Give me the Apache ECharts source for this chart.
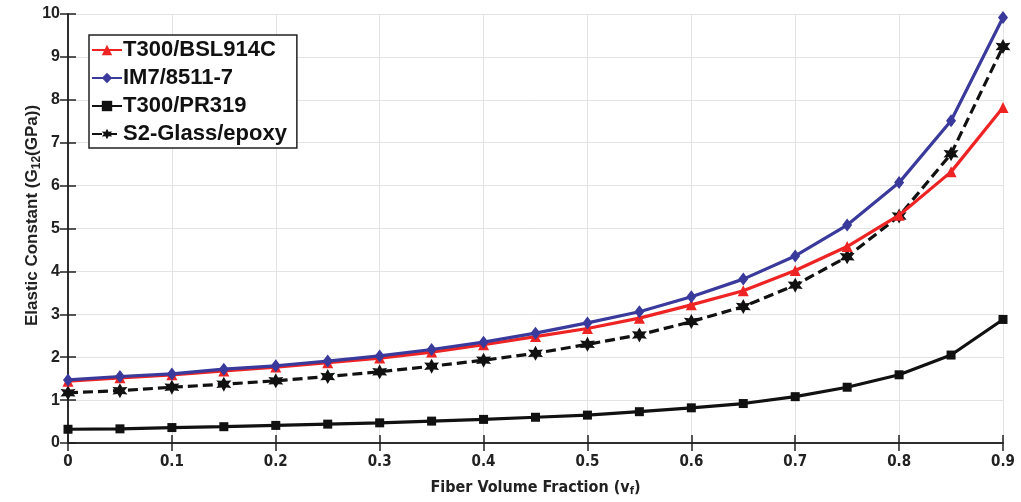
<!DOCTYPE html>
<html><head><meta charset="utf-8">
<script src="https://cdn.jsdelivr.net/npm/echarts@6/dist/echarts.min.js"></script>
<style>html,body{margin:0;padding:0;background:#fff}#c{width:1021px;height:502px}</style>
</head><body><div id="c"></div>
<script>
const fractions = [0,0.05,0.1,0.15,0.2,0.25,0.3,0.35,0.4,0.45,0.5,0.55,0.6,0.65,0.7,0.75,0.8,0.85,0.9];
const t300bsl = [1.44,1.52,1.59,1.68,1.77,1.87,1.98,2.12,2.29,2.48,2.67,2.91,3.22,3.55,4.02,4.58,5.31,6.32,7.82];
const im7 = [1.47,1.55,1.61,1.72,1.80,1.91,2.03,2.18,2.35,2.56,2.80,3.06,3.41,3.82,4.36,5.08,6.07,7.51,9.92];
const t300pr = [0.32,0.33,0.36,0.38,0.41,0.44,0.47,0.51,0.55,0.60,0.65,0.73,0.82,0.92,1.08,1.30,1.59,2.05,2.88];
const s2glass = [1.17,1.22,1.30,1.37,1.45,1.55,1.66,1.79,1.93,2.09,2.30,2.52,2.83,3.18,3.68,4.34,5.29,6.74,9.24];
const seriesNames = ['T300/BSL914C','IM7/8511-7','T300/PR319','S2-Glass/epoxy'];

function pairs(v){ return fractions.map((x,i)=>[x,v[i]]); }
function hexagram(){
  let p=[];
  for(let i=0;i<12;i++){
    const a=-Math.PI/2+i*Math.PI/6;
    const r=(i%2===0)?10:5.2;
    p.push((r*Math.cos(a)).toFixed(2)+','+(r*Math.sin(a)).toFixed(2));
  }
  return 'path://M'+p.join('L')+'Z';
}
const star = hexagram();
const font = 'Liberation Sans';
const narrow = "'DejaVu Sans Condensed', 'Liberation Sans', sans-serif";
const chart = echarts.init(document.getElementById('c'));
const axisLineStyle = {color:'#222',width:1.5};
chart.setOption({
  animation:false,
  grid:{left:68,right:18,top:14,bottom:58},
  legend:{
    left:89, top:35, orient:'vertical', itemGap:6, itemWidth:30, itemHeight:13,
    padding:[4,10,3,2],
    borderColor:'#222', borderWidth:1.5, backgroundColor:'#fff',
    textStyle:{fontFamily:font,fontWeight:'bold',fontSize:22,color:'#111',padding:[0,0,0,-4]},
    data:seriesNames
  },
  xAxis:[{
    type:'value', min:0, max:0.9, interval:0.1,
    name:'Fiber Volume Fraction (v{s|f})', nameLocation:'middle', nameGap:35, nameMoveOverlap:false,
    nameTextStyle:{fontFamily:narrow,fontWeight:'bold',fontSize:16,color:'#222',
      rich:{s:{fontFamily:narrow,fontWeight:'bold',fontSize:11,verticalAlign:'bottom',padding:[8,0,0,0]}}},
    axisLine:{lineStyle:axisLineStyle},
    axisTick:{inside:true,length:8,lineStyle:{color:'#222',width:1.5}},
    axisLabel:{fontFamily:narrow,fontWeight:'bold',fontSize:15,color:'#222',margin:12,
      formatter:v=>String(Math.round(v*10)/10)},
    splitLine:{show:true,lineStyle:{color:'#e3e3e3',width:1}}
  },{
    type:'value', position:'top', min:0, max:0.9, interval:0.1,
    axisLine:{lineStyle:axisLineStyle},
    axisTick:{inside:true,length:8,lineStyle:{color:'#222',width:1.5}},
    axisLabel:{show:false}, splitLine:{show:false}
  }],
  yAxis:[{
    type:'value', min:0, max:10, interval:1,
    name:'Elastic Constant (G{s|12}(GPa))', nameLocation:'middle', nameGap:27, nameMoveOverlap:false,
    nameTextStyle:{fontFamily:font,fontWeight:'bold',fontSize:17,color:'#222',padding:[0,0,0,26],
      rich:{s:{fontFamily:font,fontWeight:'bold',fontSize:12,padding:[0,0,-9,0]}}},
    axisLine:{lineStyle:axisLineStyle},
    axisTick:{inside:true,length:8,lineStyle:{color:'#222',width:1.5}},
    axisLabel:{fontFamily:font,fontWeight:'bold',fontSize:16,color:'#222',margin:8},
    splitLine:{show:true,lineStyle:{color:'#e3e3e3',width:1}}
  },{
    type:'value', position:'right', min:0, max:10, interval:1,
    axisLine:{show:true,lineStyle:axisLineStyle},
    axisTick:{show:true,inside:true,length:8,lineStyle:{color:'#222',width:1.5}},
    axisLabel:{show:false}, splitLine:{show:false}
  }],
  series:[
    {name:seriesNames[0],type:'line',data:pairs(t300bsl),symbol:'triangle',symbolSize:11,
      lineStyle:{color:'#ee2424',width:3.2},itemStyle:{color:'#ee2424'},z:3},
    {name:seriesNames[1],type:'line',data:pairs(im7),symbol:'diamond',symbolSize:[10,13],
      lineStyle:{color:'#3a3a9c',width:3.2},itemStyle:{color:'#3a3a9c'},z:4},
    {name:seriesNames[2],type:'line',data:pairs(t300pr),symbol:'rect',symbolSize:9,
      lineStyle:{color:'#111',width:3.2},itemStyle:{color:'#111'},z:2},
    {name:seriesNames[3],type:'line',data:pairs(s2glass),symbol:star,symbolSize:15,
      lineStyle:{color:'#111',width:3.2,type:[10,5]},itemStyle:{color:'#111'},z:2}
  ]
});
</script></body></html>
